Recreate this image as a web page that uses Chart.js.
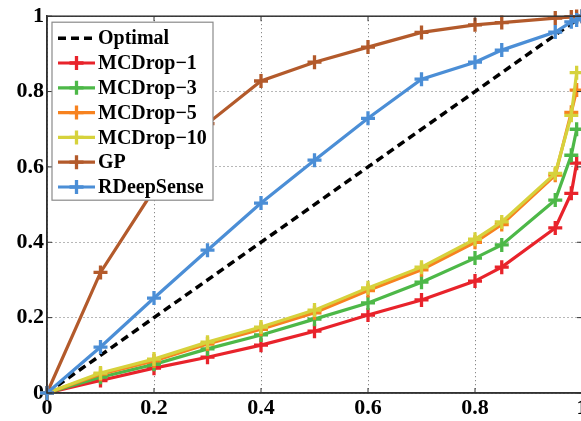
<!DOCTYPE html>
<html>
<head>
<meta charset="utf-8">
<script src="https://cdn.jsdelivr.net/npm/chart.js@4.4.1/dist/chart.umd.min.js"></script>
<style>
  html, body { margin: 0; padding: 0; background: #fff; overflow: hidden; }
  #box { width: 600px; height: 421px; position: relative; }
</style>
</head>
<body>
<div id="box"><canvas id="grafico"></canvas></div>
<script>
// eixo x (probabilidade esperada)
const xValues  = [0, 0.1, 0.2, 0.3, 0.4, 0.5, 0.6, 0.7, 0.8, 0.85, 0.95, 0.98, 0.99, 1];
const xMcDrop  = [0, 0.1, 0.2, 0.3, 0.4, 0.5, 0.6, 0.7, 0.8, 0.85, 0.95, 0.98, 0.99];
const optimalX = [0, 1];
const optimalY = [0, 1];

const mcDrop1  = [0, 0.033, 0.066, 0.095, 0.127, 0.164, 0.207, 0.247, 0.297, 0.334, 0.438, 0.53, 0.61];
const mcDrop3  = [0, 0.042, 0.076, 0.117, 0.154, 0.196, 0.239, 0.294, 0.358, 0.393, 0.512, 0.631, 0.70];
const mcDrop5  = [0, 0.050, 0.085, 0.130, 0.169, 0.213, 0.272, 0.327, 0.400, 0.447, 0.578, 0.745, 0.804];
const mcDrop10 = [0, 0.053, 0.090, 0.135, 0.175, 0.220, 0.279, 0.334, 0.408, 0.454, 0.583, 0.737, 0.85];
const gp       = [0, 0.32, 0.54, 0.715, 0.828, 0.878, 0.918, 0.957, 0.977, 0.983, 0.995, 0.998, 0.999, 1];
const rDeep    = [0, 0.122, 0.252, 0.379, 0.504, 0.618, 0.729, 0.833, 0.878, 0.910, 0.958, 0.985, 0.99, 1];

const yTickLabels = ['0', '0.2', '0.4', '0.6', '0.8', '1'];
const xTickLabels = ['0', '0.2', '0.4', '0.6', '0.8', '1'];

const nomes = ['Optimal', 'MCDrop\u22121', 'MCDrop\u22123', 'MCDrop\u22125', 'MCDrop\u221210', 'GP', 'RDeepSense'];
const cores = ['#000000', '#e8232b', '#4db848', '#f7821f', '#d6d23c', '#b35a2b', '#4b8ed6'];

function pontos(xs, ys) {
    return ys.map((y, i) => ({ x: xs[i], y: y }));
}

const series = [
    pontos(optimalX, optimalY),
    pontos(xMcDrop, mcDrop1),
    pontos(xMcDrop, mcDrop3),
    pontos(xMcDrop, mcDrop5),
    pontos(xMcDrop, mcDrop10),
    pontos(xValues, gp),
    pontos(xValues, rDeep)
];

const fonteEixo = { family: '"Liberation Serif", "DejaVu Serif", serif', size: 22, weight: 'bold' };

const datasets = series.map((dados, i) => {
    const otimo = i === 0;
    return {
        label: nomes[i],
        data: dados,
        borderColor: cores[i],
        backgroundColor: cores[i],
        borderWidth: otimo ? 3.5 : 3.2,
        borderDash: otimo ? [8, 5] : [],
        pointStyle: 'cross',
        pointRadius: otimo ? 0 : 7,
        pointBorderWidth: 3.3,
        pointHoverRadius: 0,
        order: series.length - i, // as ultimas ficam por cima
        clip: false
    };
});

// moldura, ticks internos e legenda dentro do grafico
const molduraPlugin = {
    id: 'moldura',
    afterDraw(chart) {
        const ctx = chart.ctx;
        const ca = chart.chartArea;
        const sx = chart.scales.x, sy = chart.scales.y;
        ctx.save();

        // ticks para dentro
        ctx.strokeStyle = '#333';
        ctx.lineWidth = 1;
        ctx.beginPath();
        sx.ticks.forEach(t => {
            const px = sx.getPixelForValue(t.value);
            ctx.moveTo(px, ca.bottom); ctx.lineTo(px, ca.bottom - 5);
            ctx.moveTo(px, ca.top); ctx.lineTo(px, ca.top + 5);
        });
        sy.ticks.forEach(t => {
            const py = sy.getPixelForValue(t.value);
            ctx.moveTo(ca.left, py); ctx.lineTo(ca.left + 5, py);
            ctx.moveTo(ca.right, py); ctx.lineTo(ca.right - 5, py);
        });
        ctx.stroke();

        // caixa
        ctx.strokeStyle = '#333';
        ctx.lineWidth = 1.5;
        ctx.strokeRect(ca.left, ca.top, ca.right - ca.left, ca.bottom - ca.top);

        // legenda
        const lx = ca.left + 5, ly = ca.top + 6, lw = 161, lh = 178;
        ctx.fillStyle = '#ffffff';
        ctx.fillRect(lx, ly, lw, lh);
        ctx.strokeStyle = '#8a8a8a';
        ctx.lineWidth = 1.2;
        ctx.strokeRect(lx, ly, lw, lh);

        ctx.font = 'bold 20px "Liberation Serif", "DejaVu Serif", serif';
        ctx.textBaseline = 'middle';
        ctx.textAlign = 'left';
        chart.data.datasets.forEach((ds, i) => {
            const y = ly + 16 + i * 24.8;
            ctx.strokeStyle = ds.borderColor;
            ctx.lineWidth = ds.borderWidth;
            ctx.setLineDash(ds.borderDash);
            ctx.beginPath();
            ctx.moveTo(lx + 6, y);
            ctx.lineTo(lx + 43, y);
            ctx.stroke();
            ctx.setLineDash([]);
            if (ds.pointRadius > 0) {
                ctx.lineWidth = ds.pointBorderWidth;
                ctx.beginPath();
                ctx.moveTo(lx + 24.5 - ds.pointRadius, y);
                ctx.lineTo(lx + 24.5 + ds.pointRadius, y);
                ctx.moveTo(lx + 24.5, y - ds.pointRadius);
                ctx.lineTo(lx + 24.5, y + ds.pointRadius);
                ctx.stroke();
            }
            ctx.fillStyle = '#000';
            ctx.fillText(ds.label, lx + 46, y + 1);
        });
        ctx.restore();
    }
};

const grafico = new Chart(document.getElementById('grafico'), {
    type: 'line',
    data: { datasets: datasets },
    options: {
        responsive: true,
        maintainAspectRatio: false,
        animation: false,
        events: [],
        layout: { padding: { top: 16, right: 18, left: 0, bottom: 0 } },
        plugins: { legend: { display: false }, tooltip: { enabled: false } },
        elements: { line: { tension: 0 } },
        scales: {
            x: {
                type: 'linear',
                min: 0,
                max: 1,
                afterFit: (s) => { s.height = 28; },
                ticks: {
                    stepSize: 0.2,
                    color: '#000',
                    font: fonteEixo,
                    padding: 2,
                    maxRotation: 0,
                    callback: (v) => xTickLabels[Math.round(v * 5)]
                },
                grid: { color: '#6f6f6f', lineWidth: 1, drawTicks: false },
                border: { display: true, color: '#333', width: 1.5, dash: [1, 3] }
            },
            y: {
                type: 'linear',
                min: 0,
                max: 1,
                afterFit: (s) => { s.width = 47; },
                ticks: {
                    stepSize: 0.2,
                    color: '#000',
                    font: fonteEixo,
                    padding: 3,
                    callback: (v) => yTickLabels[Math.round(v * 5)]
                },
                grid: { color: '#6f6f6f', lineWidth: 1, drawTicks: false },
                border: { display: true, color: '#333', width: 1.5, dash: [1, 3] }
            }
        }
    },
    plugins: [molduraPlugin]
});
</script>
</body>
</html>
